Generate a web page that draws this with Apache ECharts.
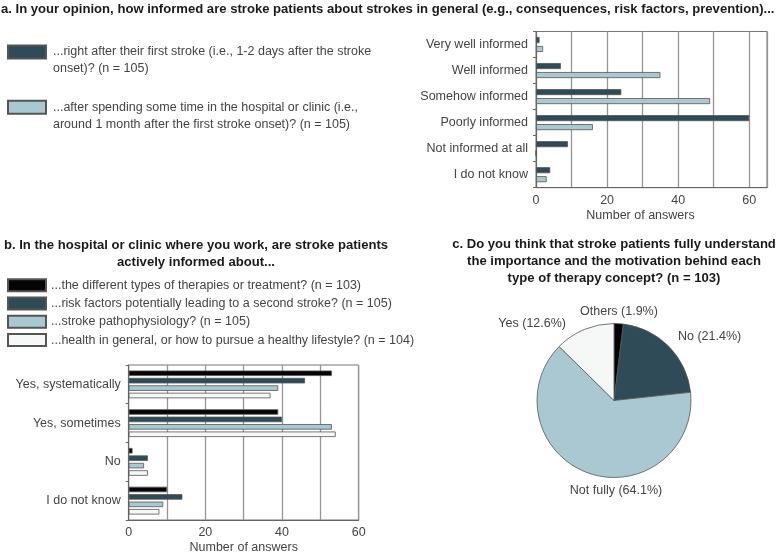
<!DOCTYPE html>
<html>
<head>
<meta charset="utf-8">
<script src="https://cdn.jsdelivr.net/npm/echarts@6/dist/echarts.min.js"></script>
<style>
html,body{margin:0;padding:0;background:#fff;}
#chart{width:778px;height:555px;}
</style>
</head>
<body>
<div id="chart"></div>
<script>
// ---- data ----
const catsA = ['Very well informed', 'Well informed', 'Somehow informed', 'Poorly informed', 'Not informed at all', 'I do not know'];
const aFirstStroke = [1, 7, 24, 60, 9, 4];
const aAfterMonth = [2, 35, 49, 16, 0, 3];
const nameA1 = '...right after their first stroke (i.e., 1-2 days after the stroke\nonset)? (n = 105)';
const nameA2 = '...after spending some time in the hospital or clinic (i.e.,\naround 1 month after the first stroke onset)? (n = 105)';

const catsB = ['Yes, systematically', 'Yes, sometimes', 'No', 'I do not know'];
const bTherapies = [53, 39, 1, 10];
const bRiskFactors = [46, 40, 5, 14];
const bPathophysiology = [39, 53, 4, 9];
const bHealth = [37, 54, 5, 8];
const nameB1 = '...the different types of therapies or treatment? (n = 103)';
const nameB2 = '...risk factors potentially leading to a second stroke? (n = 105)';
const nameB3 = '...stroke pathophysiology? (n = 105)';
const nameB4 = '...health in general, or how to pursue a healthy lifestyle? (n = 104)';

const pieNames = ['Others', 'No', 'Not fully', 'Yes'];
const pieValues = [2, 22, 66, 13];

const xTicksA = [0, 20, 40, 60];
const xTicksB = [0, 20, 40, 60];

// ---- styles ----
const FONT = '"Liberation Sans", Arial, Helvetica, sans-serif';
const TXT = '#444';
const C_BLACK = '#050505';
const C_DARK = '#2f4b57';
const C_LIGHT = '#a9c8d2';
const C_WHITE = '#f6f8f8';
const BORDER = '#555';

const chart = echarts.init(document.getElementById('chart'), null, {renderer: 'canvas'});

function valueAxis(gridIndex, max, ticks, nameRightPad) {
  return {
    type: 'value', gridIndex, min: 0, max, interval: 10,
    name: 'Number of answers', nameLocation: 'middle', nameGap: 21,
    nameTextStyle: {color: TXT, fontSize: 12.5, fontFamily: FONT, padding: [0, nameRightPad, 0, 0]},
    axisLine: {show: true, lineStyle: {color: '#666', width: 1}},
    axisTick: {show: false},
    axisLabel: {color: TXT, fontSize: 12.5, fontFamily: FONT, margin: 6,
      formatter: v => ticks.indexOf(v) >= 0 ? String(v) : ''},
    splitLine: {show: true, lineStyle: {color: '#959595', width: 1.3}}
  };
}
function catAxis(gridIndex, cats) {
  return {
    type: 'category', gridIndex, data: cats, inverse: true,
    axisLine: {show: true, lineStyle: {color: '#666', width: 1}},
    axisTick: {show: true, length: 3, lineStyle: {color: '#666'}},
    axisLabel: {color: TXT, fontSize: 12.5, fontFamily: FONT, margin: 8}
  };
}
function barSeries(name, data, color, axisIdx, width, gap) {
  return {
    type: 'bar', name, data, xAxisIndex: axisIdx, yAxisIndex: axisIdx,
    barWidth: width, barGap: gap,
    itemStyle: {color, borderColor: BORDER, borderWidth: 0.8},
    silent: true, animation: false
  };
}

const pieCenter = [614, 400.5];
const pieRadius = 77;
// label anchor offsets relative to the pie centre (layout only)
const pieLabelPlace = [
  {dx: 5, dy: -89, align: 'center'},
  {dx: 64, dy: -63.5, align: 'left'},
  {dx: 2, dy: 90.5, align: 'center'},
  {dx: -48, dy: -76.5, align: 'right'}
];

const option = {
  animation: false,
  backgroundColor: '#fff',
  textStyle: {fontFamily: FONT},
  graphic: [
    {type: 'text', x: 1, y: 9, style: {text: 'a. In your opinion, how informed are stroke patients about strokes in general (e.g., consequences, risk factors, prevention)...',
      fill: '#1a1a1a', font: 'bold 13.1px ' + FONT, textAlign: 'left', textVerticalAlign: 'middle'}},
    {type: 'text', x: 196, y: 253.5, style: {text: 'b. In the hospital or clinic where you work, are stroke patients\nactively informed about...',
      fill: '#1a1a1a', font: 'bold 13.1px ' + FONT, lineHeight: 17, textAlign: 'center', textVerticalAlign: 'middle'}},
    {type: 'text', x: 614, y: 261, style: {text: 'c. Do you think that stroke patients fully understand\nthe importance and the motivation behind each\ntype of therapy concept? (n = 103)',
      fill: '#1a1a1a', font: 'bold 13.1px ' + FONT, lineHeight: 17, textAlign: 'center', textVerticalAlign: 'middle'}}
  ],
  legend: [
    {
      data: [nameA1, nameA2], orient: 'vertical', left: 7, top: 26.5, padding: 0,
      itemWidth: 38, itemHeight: 13, itemGap: 4.3, icon: 'rect', selectedMode: false,
      formatter: n => '\n' + n,
      textStyle: {color: TXT, fontSize: 12.5, fontFamily: FONT, lineHeight: 17, padding: [0, 0, 0, 2]}
    },
    {
      data: [nameB1, nameB2, nameB3, nameB4], orient: 'vertical', left: 7, top: 277.7, padding: 0,
      itemWidth: 38, itemHeight: 12, itemGap: 3.3, icon: 'rect', selectedMode: false,
      textStyle: {color: TXT, fontSize: 12.5, fontFamily: FONT, lineHeight: 15}
    }
  ],
  grid: [
    {left: 536, top: 31.5, width: 231, height: 156.2, show: true, borderColor: '#777', borderWidth: 1, backgroundColor: 'transparent'},
    {left: 128.7, top: 365, width: 230, height: 156.3, show: true, borderColor: '#777', borderWidth: 1, backgroundColor: 'transparent'}
  ],
  xAxis: [valueAxis(0, 65, xTicksA, 22), valueAxis(1, 60, xTicksB, 0)],
  yAxis: [catAxis(0, catsA), catAxis(1, catsB)],
  series: [
    barSeries(nameA1, aFirstStroke, C_DARK, 0, 6, '50%'),
    barSeries(nameA2, aAfterMonth, C_LIGHT, 0, 6, '50%'),
    barSeries(nameB1, bTherapies, C_BLACK, 1, 5.5, '35%'),
    barSeries(nameB2, bRiskFactors, C_DARK, 1, 5.5, '35%'),
    barSeries(nameB3, bPathophysiology, C_LIGHT, 1, 5.5, '35%'),
    barSeries(nameB4, bHealth, C_WHITE, 1, 5.5, '35%'),
    {
      type: 'pie', center: pieCenter, radius: pieRadius, startAngle: 90, clockwise: true,
      percentPrecision: 1, silent: true, animation: false,
      data: pieNames.map((n, i) => ({name: n, value: pieValues[i],
        itemStyle: {color: [C_BLACK, C_DARK, C_LIGHT, C_WHITE][i]}})),
      itemStyle: {borderColor: BORDER, borderWidth: 0.8},
      label: {show: true, position: 'inside', color: TXT, fontSize: 12.5, fontFamily: FONT,
        textBorderWidth: 0, overflow: 'none',
        formatter: p => p.name + ' (' + p.percent.toFixed(1) + '%)'},
      labelLine: {show: false},
      labelLayout: p => {
        const c = pieLabelPlace[p.dataIndex];
        return {x: pieCenter[0] + c.dx, y: pieCenter[1] + c.dy, align: c.align, verticalAlign: 'middle'};
      }
    }
  ]
};
chart.setOption(option);
</script>
</body>
</html>
